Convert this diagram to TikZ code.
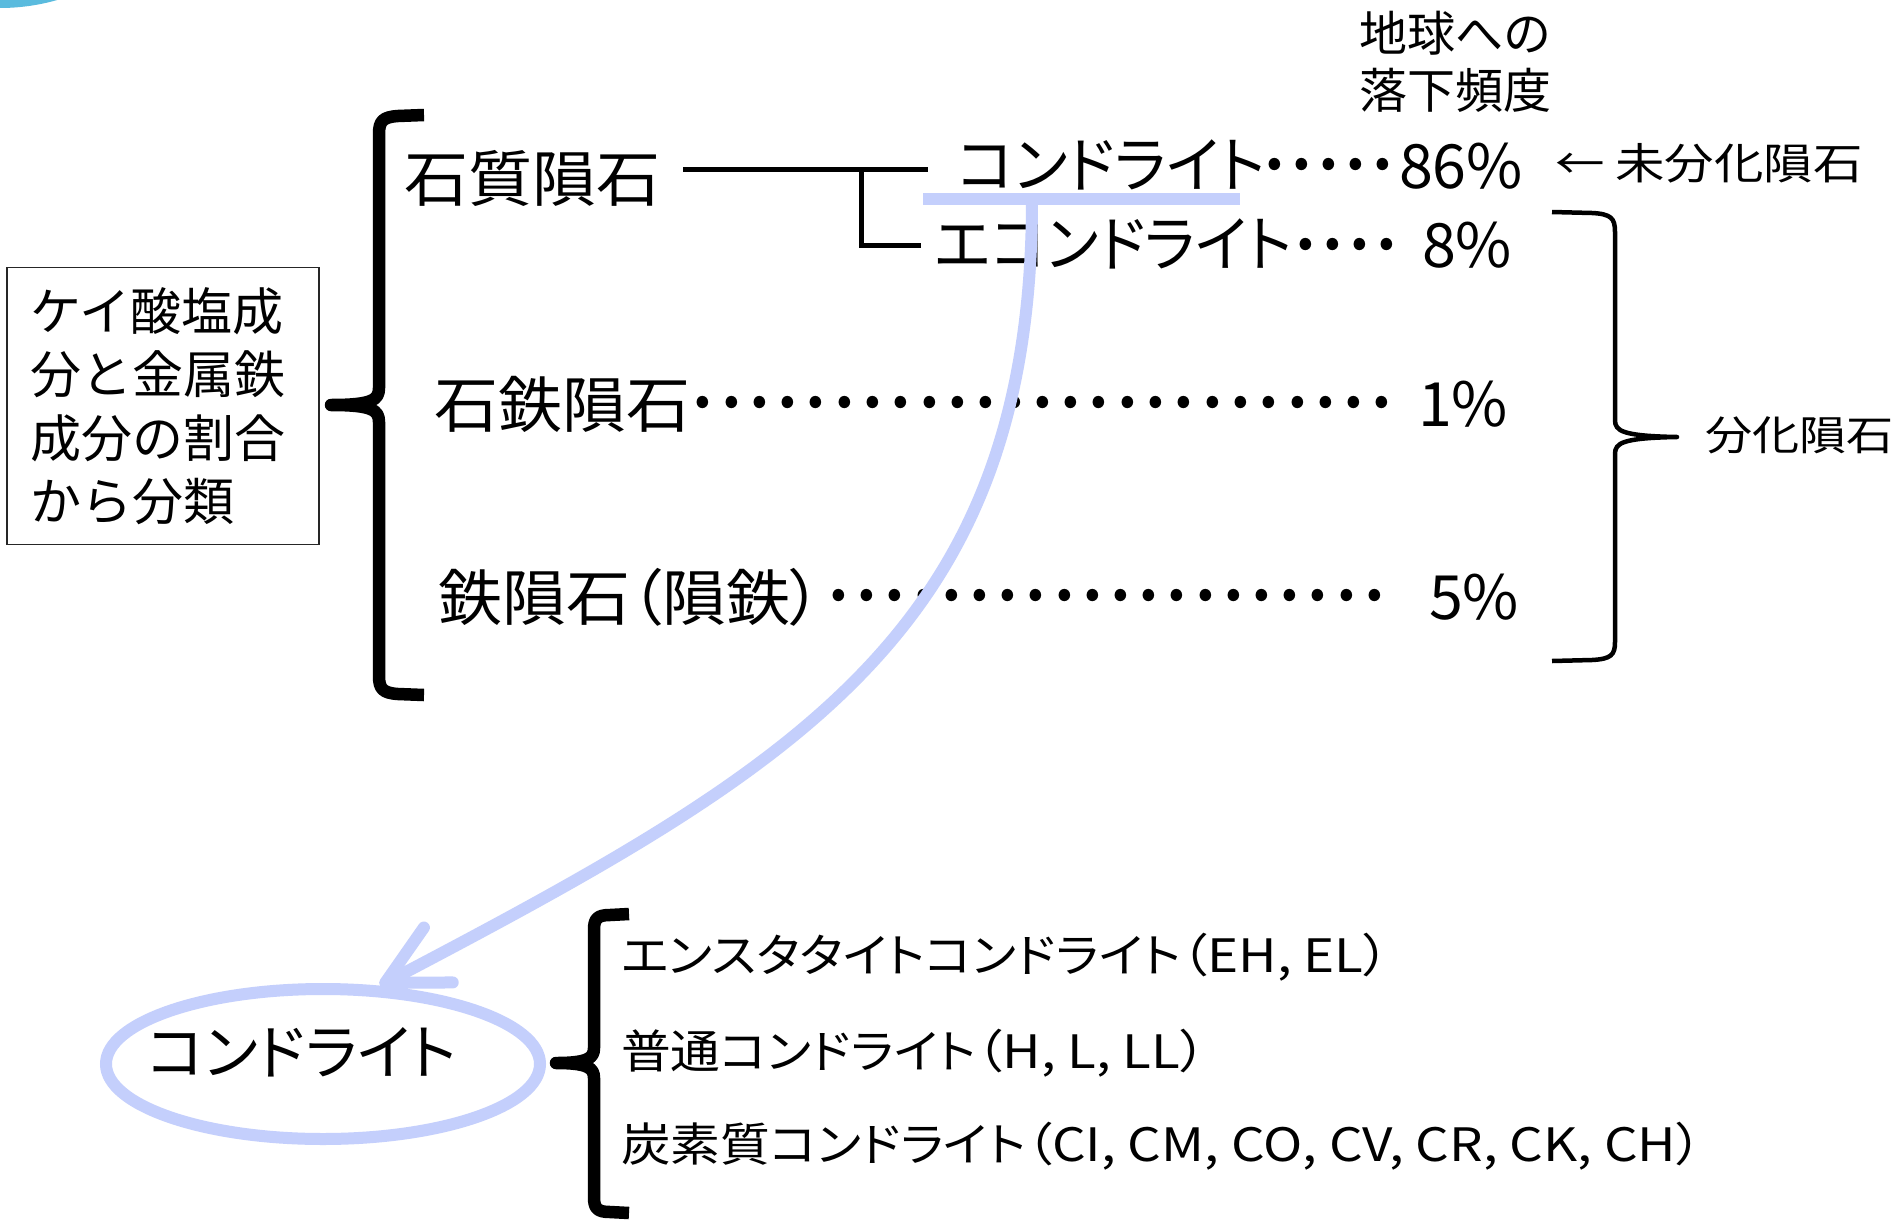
\documentclass[tikz,border=0pt]{standalone}
\usepackage{fontspec}
\setmainfont{Noto Sans CJK JP}[RawFeature=+palt]
\newfontfamily\jpfull{Noto Sans CJK JP}
\newfontfamily\jprow{Noto Sans CJK JP}[RawFeature=+palt, FakeStretch=1.05]
\newfontfamily\jpc{Noto Sans CJK JP}[RawFeature=+palt, FakeStretch=0.98]
\newfontfamily\jpnarrow{Noto Sans CJK JP}[RawFeature=+palt, FakeStretch=0.96]
\newfontfamily\jpwide{Noto Sans CJK JP}[RawFeature=+palt, FakeStretch=1.15]
\newfontfamily\jpbot{Noto Sans CJK JP}[RawFeature=+palt, FakeStretch=1.08]
\usetikzlibrary{shapes.geometric,arrows.meta,calc}
\definecolor{hl}{RGB}{196,207,252}
\definecolor{blobc}{RGB}{90,187,222}
\newcommand\fsz[1]{\fontsize{#1}{#1}\selectfont}
% #1 dots, #2 spacing
\newcommand\leaderdots[2]{\makebox[8pt]{·}\foreach \i in {2,...,#1}{\hspace{\dimexpr#2-8pt\relax}\makebox[8pt]{·}}}
\begin{document}
\begin{tikzpicture}[x=1pt,y=-1pt,
  txt/.style={inner sep=0pt, outer sep=0pt},
  row/.style={txt, font=\jprow\fsz{61}},
  lead/.style={txt, anchor=base, font=\fsz{88}},
  pct/.style={txt, anchor=west, font=\fsz{61}},
  bot/.style={txt, anchor=west, font=\jpbot\fsz{46}},
  conn/.style={line width=5pt},
  brk/.style={line width=12.5pt, line join=round},
  brkthin/.style={line width=4.5pt, line join=round},
  hlline/.style={draw=hl, line width=12pt},
]
\useasboundingbox (0,0) rectangle (1898,1223);
\fill[white] (0,0) rectangle (1898,1223);
\begin{scope}
  \clip (0,0) rectangle (1898,1223);
  \fill[blobc] (0,-199) circle[radius=207pt];
\end{scope}

% heading
\node[txt, font=\jpfull\fsz{48}] (h1) at (1455,33) {地球への};
\node[txt, font=\jpfull\fsz{48}] (h2) at (1455,90) {落下頻度};

% left box
\node[draw=black!85, line width=1.5pt, minimum width=312pt, minimum height=277pt,
      inner sep=0pt, text width=266pt, align=left,
      font=\jpfull\fontsize{51}{63.5}\selectfont] (box) at (163,406)
      {ケイ酸塩成\\分と金属鉄\\成分の割合\\から分類};

% big left bracket
\draw[brk] (424,115) -- (398,116) .. controls (383,117) and (379,121) .. (379,134)
  -- (379,388) .. controls (379,400) and (372,405) .. (331,405)
  .. controls (372,405) and (379,410) .. (379,422)
  -- (379,676) .. controls (379,689) and (383,693) .. (398,694) -- (424,695);

% rows
\node[row, anchor=west] (sq) at (404,178) {石質隕石};
\node[txt, anchor=west, font=\jpc\fsz{61}] (c1) at (958,166) {コンドライト\vphantom{石}};
\node[lead] (c1d) at (1329,196) {\leaderdots{5}{27pt}};
\node[pct] (p1) at (1399,166) {86\%};
\node[txt, anchor=west, font=\jpwide\fsz{43}] (un) at (1555,163) {← 未分化隕石};

\node[txt, anchor=west, font=\jpnarrow\fsz{61}] (c2) at (935,245) {エコンドライト\vphantom{石}};
\node[lead] (c2d) at (1347,276) {\leaderdots{4}{27pt}};
\node[pct] (p2) at (1422,245) {8\%};

\node[row, anchor=west] (sf) at (434,404) {石鉄隕石};
\node[lead] (d3) at (1043,434) {\leaderdots{25}{28.3pt}};
\node[pct] (p3) at (1418,404) {1\%};

\node[row, anchor=west] (fe) at (438,597) {鉄隕石（隕鉄）};
\node[lead] (d4) at (1107,627) {\leaderdots{20}{28.2pt}};
\node[pct] (p4) at (1429,597) {5\%};

% black connectors
\coordinate (br) at (861,169);
\draw[conn] ($(sq.east |- br)+(23,0)$) -- ($(c1.west |- br)+(-30,0)$);
\draw[conn] (br) |- ($(c2.west)+(-14,0)$);

% right brace
\draw[brkthin] (1552,212) -- (1592,213) .. controls (1611,214) and (1615,218) .. (1615,232)
  -- (1615,420) .. controls (1615,431) and (1622,436) .. (1677,437)
  .. controls (1622,438) and (1615,443) .. (1615,454)
  -- (1615,642) .. controls (1615,655) and (1611,659) .. (1592,660) -- (1552,661);
\node[txt, anchor=west, font=\jpwide\fsz{41}] (bk) at (1705,435) {分化隕石};

% bottom ellipse
\node[ellipse, draw=hl, line width=12pt, minimum width=434pt, minimum height=150pt,
      inner sep=0pt] (e) at (323,1064) {};
\node[txt, font=\fsz{60}] (ct) at (302,1053) {コンドライト\vphantom{石}};

% highlight and curved arrow
\draw[hlline] (923,199) -- (1240,199);
\coordinate (j) at (1032,199);
\draw[hl, line width=12pt, -{Straight Barb[length=60pt, width=62pt, round]}]
  (j) .. controls (1032,630) and (800,765) .. (e.54);

% bottom bracket
\draw[brk] (629,914) -- (610,915) .. controls (597,915) and (594,919) .. (594,930)
  -- (594,1048) .. controls (594,1058) and (588,1063) .. (556,1063)
  .. controls (588,1063) and (594,1068) .. (594,1078)
  -- (594,1197) .. controls (594,1208) and (597,1212) .. (610,1212) -- (629,1213);

\node[bot] (b1) at (621,957) {エンスタタイトコンドライト{\jpwide（EH, EL）}};
\node[bot] (b2) at (621,1053) {普通コンドライト{\jpwide（H, L, LL）}};
\node[bot] (b3) at (621,1146) {炭素質コンドライト{\jpwide（CI, CM, CO, CV, CR, CK, CH）}};
\end{tikzpicture}
\end{document}
